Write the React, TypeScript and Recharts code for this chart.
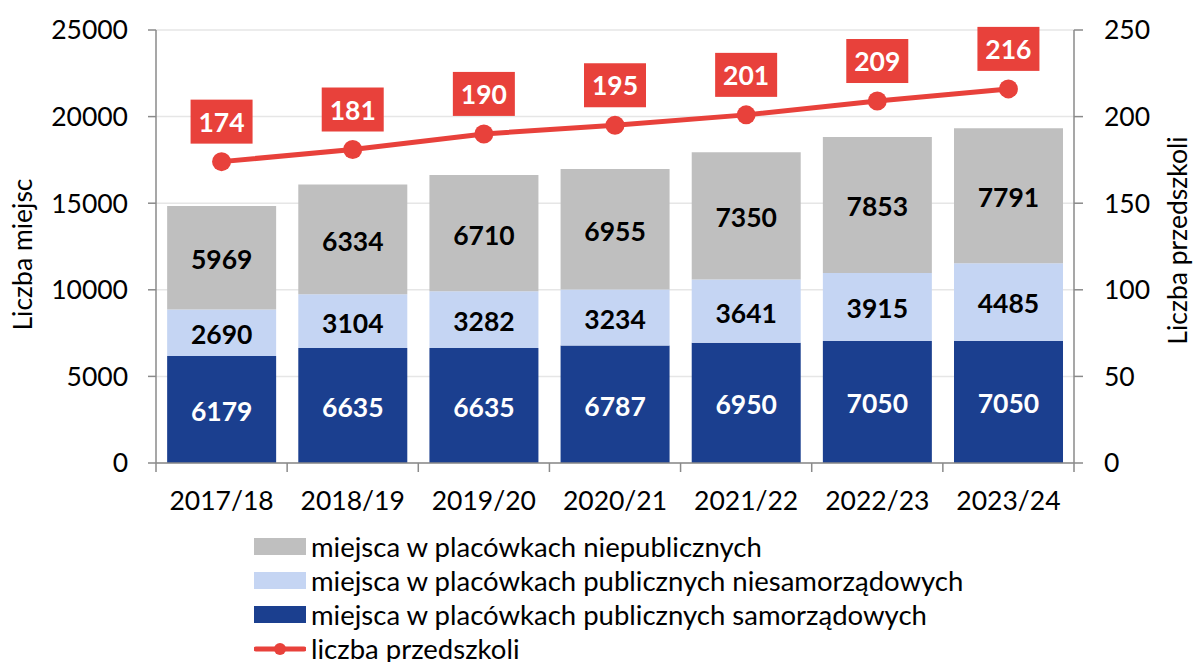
import React from "react";
import {
  ComposedChart,
  Bar,
  Line,
  XAxis,
  YAxis,
  CartesianGrid,
  Legend,
  LabelList,
} from "recharts";

const categories = ["2017/18", "2018/19", "2019/20", "2020/21", "2021/22", "2022/23", "2023/24"];
const samorzadowe = [6179, 6635, 6635, 6787, 6950, 7050, 7050];
const niesamorzadowe = [2690, 3104, 3282, 3234, 3641, 3915, 4485];
const niepubliczne = [5969, 6334, 6710, 6955, 7350, 7853, 7791];
const przedszkola = [174, 181, 190, 195, 201, 209, 216];
const leftTicks = [0, 5000, 10000, 15000, 20000, 25000];
const rightTicks = [0, 50, 100, 150, 200, 250];

const data = categories.map((c, i) => ({
  name: c,
  sam: samorzadowe[i],
  nies: niesamorzadowe[i],
  niep: niepubliczne[i],
  prz: przedszkola[i],
}));

const FONT = "Lato, 'Open Sans', sans-serif";
const FS = 26.5;
const LFS = 27.5;
const DARK = "#1b3f8f";
const LIGHT = "#c5d5f3";
const GRAY = "#bfbfbf";
const RED = "#e8413b";
const AXIS = "#8a8a8a";

const CHART_W = 1193;
const CHART_H = 662;
const LEFT_W = 156;
const RIGHT_W = 119;
const BAND = (CHART_W - LEFT_W - RIGHT_W) / categories.length;

const XTick = (props: any) => {
  const { x, y, payload, index } = props;
  const isLast = index === categories.length - 1;
  return (
    <g>
      <line x1={x - BAND / 2} x2={x - BAND / 2} y1={y} y2={y + 9} stroke={AXIS} strokeWidth={1.5} />
      {isLast && (
        <line x1={x + BAND / 2} x2={x + BAND / 2} y1={y} y2={y + 9} stroke={AXIS} strokeWidth={1.5} />
      )}
      <text x={x} y={y + 47} textAnchor="middle" fontSize={FS} fill="#000" fontFamily={FONT}>
        {payload.value}
      </text>
    </g>
  );
};

const PointLabel = (props: any) => {
  const { x, y, value } = props;
  return (
    <g>
      <rect x={x - 31} y={y - 62} width={62} height={44} fill={RED} />
      <text
        x={x}
        y={y - 40}
        textAnchor="middle"
        dominantBaseline="central"
        fill="#fff"
        fontWeight={700}
        fontSize={FS}
        fontFamily={FONT}
      >
        {value}
      </text>
    </g>
  );
};

const legendItems = [
  { label: "miejsca w placówkach niepublicznych", color: GRAY, type: "rect" },
  { label: "miejsca w placówkach publicznych niesamorządowych", color: LIGHT, type: "rect" },
  { label: "miejsca w placówkach publicznych samorządowych", color: DARK, type: "rect" },
  { label: "liczba przedszkoli", color: RED, type: "line" },
];

const LegendContent = () => (
  <div style={{ height: 132, fontFamily: FONT, fontSize: LFS, color: "#000", paddingLeft: 254 }}>
    {legendItems.map((it) => (
      <div key={it.label} style={{ display: "flex", alignItems: "center", height: 34, whiteSpace: "nowrap" }}>
        <svg width={52} height={34} style={{ flex: "none" }}>
          {it.type === "rect" ? (
            <rect x={0} y={8} width={52} height={17} fill={it.color} />
          ) : (
            <g>
              <line x1={2} x2={50} y1={17} y2={17} stroke={it.color} strokeWidth={5} strokeLinecap="round" />
              <circle cx={26} cy={17} r={6} fill={it.color} />
            </g>
          )}
        </svg>
        <span style={{ marginLeft: 5, lineHeight: "34px" }}>{it.label}</span>
      </div>
    ))}
  </div>
);

const LeftLabel = (props: any) => {
  const { viewBox } = props;
  const cx = viewBox.x + 22;
  const cy = viewBox.y + viewBox.height / 2 + 8;
  return (
    <text x={cx} y={cy} transform={`rotate(-90 ${cx} ${cy})`} textAnchor="middle" dominantBaseline="central" fontSize={FS} fontFamily={FONT} fill="#000">
      Liczba miejsc
    </text>
  );
};

const RightLabel = (props: any) => {
  const { viewBox } = props;
  const cx = viewBox.x + viewBox.width - 16;
  const cy = viewBox.y + viewBox.height / 2 - 6;
  return (
    <text x={cx} y={cy} transform={`rotate(-90 ${cx} ${cy})`} textAnchor="middle" dominantBaseline="central" fontSize={FS} fontFamily={FONT} fill="#000">
      Liczba przedszkoli
    </text>
  );
};

export default function App() {
  return (
    <div style={{ position: "absolute", left: 0, top: 0, background: "#fff" }}>
      <ComposedChart
        width={CHART_W}
        height={CHART_H}
        data={data}
        margin={{ top: 30, right: 0, bottom: 0, left: 0 }}
        barCategoryGap="8.5%"
        style={{ fontFamily: FONT }}
      >
        <CartesianGrid vertical={false} stroke="#e6e6e6" strokeWidth={1.5} yAxisId="left" />
        <XAxis
          dataKey="name"
          height={67}
          tickSize={0}
          tickMargin={0}
          tickLine={false}
          axisLine={{ stroke: AXIS, strokeWidth: 1.5 }}
          tick={<XTick />}
          interval={0}
        />
        <YAxis
          yAxisId="left"
          width={LEFT_W}
          domain={[0, 25000]}
          ticks={leftTicks}
          tickSize={8}
          tickMargin={20}
          axisLine={{ stroke: AXIS, strokeWidth: 1.5 }}
          tickLine={{ stroke: AXIS, strokeWidth: 1.5 }}
          tick={{ fontSize: FS, fill: "#000", fontFamily: FONT }}
          label={<LeftLabel />}
        />
        <YAxis
          yAxisId="right"
          orientation="right"
          width={RIGHT_W}
          domain={[0, 250]}
          ticks={rightTicks}
          tickSize={9}
          tickMargin={21}
          axisLine={{ stroke: AXIS, strokeWidth: 1.5 }}
          tickLine={{ stroke: AXIS, strokeWidth: 1.5 }}
          tick={{ fontSize: FS, fill: "#000", fontFamily: FONT, textAnchor: "start" }}
          label={<RightLabel />}
        />
        <Legend
          verticalAlign="bottom"
          align="left"
          layout="horizontal"
          content={<LegendContent />}
          wrapperStyle={{ left: 0, width: CHART_W, height: 132 }}
        />
        <Bar yAxisId="left" dataKey="sam" stackId="a" fill={DARK} isAnimationActive={false}>
          <LabelList dataKey="sam" position="center" fill="#fff" fontWeight={700} fontSize={FS} fontFamily={FONT} dy={2} />
        </Bar>
        <Bar yAxisId="left" dataKey="nies" stackId="a" fill={LIGHT} isAnimationActive={false}>
          <LabelList dataKey="nies" position="center" fill="#000" fontWeight={700} fontSize={FS} fontFamily={FONT} dy={2} />
        </Bar>
        <Bar yAxisId="left" dataKey="niep" stackId="a" fill={GRAY} isAnimationActive={false}>
          <LabelList dataKey="niep" position="center" fill="#000" fontWeight={700} fontSize={FS} fontFamily={FONT} dy={2} />
        </Bar>
        <Line
          yAxisId="right"
          dataKey="prz"
          stroke={RED}
          strokeWidth={5}
          dot={{ r: 9.5, fill: RED, stroke: RED, strokeWidth: 0 }}
          activeDot={false}
          isAnimationActive={false}
        >
          <LabelList dataKey="prz" content={<PointLabel />} />
        </Line>
      </ComposedChart>
    </div>
  );
}
